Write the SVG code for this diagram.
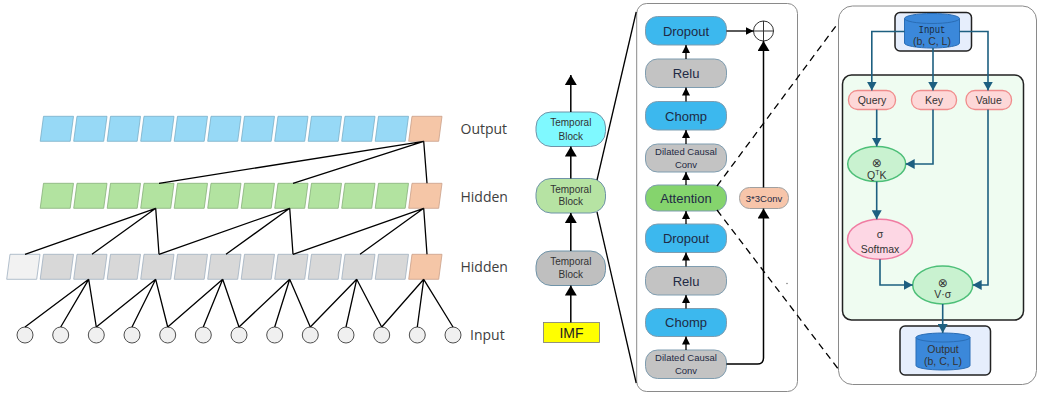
<svg xmlns="http://www.w3.org/2000/svg" xmlns:xlink="http://www.w3.org/1999/xlink" width="1039" height="395" viewBox="0 0 1039 395">
<style>
.ln{stroke:#000;stroke-width:1.3;fill:none}
.cb{fill:#97d9f6;stroke:#7aaec8;stroke-width:0.8}
.cg{fill:#b2e3a0;stroke:#86b07a;stroke-width:0.8}
.cy{fill:#d8d8d8;stroke:#a0b0c0;stroke-width:0.8}
.cl{fill:#f2f2f2;stroke:#a0b0c0;stroke-width:0.8}
.co{fill:#f5c6a7;stroke:#c9a089;stroke-width:0.8}
.inp{fill:#f0f0f0;stroke:#505050;stroke-width:1}
.lbl{font-family:'Open Sans',sans-serif;font-size:14px;fill:#404040}
.tb{stroke:#6f93a8;stroke-width:1}
.tbt{font-family:'Liberation Sans',Arial,sans-serif;font-size:10px;fill:#333;text-anchor:middle}
.bx{stroke:#7f9db0;stroke-width:1}
.blue{fill:#3cb8ee}
.gray{fill:#c3c3c3}
.green{fill:#85d46d}
.peach{fill:#f7c5aa}
.bt{font-family:'Liberation Sans',Arial,sans-serif;font-size:13px;fill:#1f2a44;text-anchor:middle}
.bs{font-family:'Liberation Sans',Arial,sans-serif;font-size:9.5px;fill:#1f2a44;text-anchor:middle}
.ka{stroke:#000;stroke-width:1.5;fill:none;marker-end:url(#ka)}
.sa{stroke:#000;stroke-width:1.3;fill:none;marker-end:url(#sa)}
.dash{stroke:#000;stroke-width:1.3;fill:none;stroke-dasharray:7 5}
.panel{fill:#fff;stroke:#8a8a8a;stroke-width:1}
.ar{stroke:#1d5f80;stroke-width:1.6;fill:none;marker-end:url(#ta)}
.rt{font-family:'Liberation Sans','DejaVu Sans',Arial,sans-serif;font-size:10.5px;fill:#333;text-anchor:middle}
.ot{font-family:'DejaVu Sans',sans-serif;font-size:12px;fill:#333;text-anchor:middle}
.dbox{fill:#e6eefc;stroke:#222;stroke-width:1.5}
.cyl{fill:#3b88da;stroke:#2a6db5;stroke-width:1}
.pk{fill:#fdd8d8;stroke:#f08c8c;stroke-width:1.3}
.eg{fill:#c9f2d0;stroke:#4dbf78;stroke-width:1.5}
.ep{fill:#fdd7e4;stroke:#f07ca2;stroke-width:1.5}
</style>
<defs>
<polygon id="cell" points="0,25 30,25 33.3,0 3.3,0"/>
<marker id="ka" viewBox="0 0 10 12" refX="10" refY="6" markerWidth="10" markerHeight="12" markerUnits="userSpaceOnUse" orient="auto"><path d="M0,0 L10,6 L0,12 z" fill="#000"/></marker>
<marker id="sa" viewBox="0 0 8 8" refX="8" refY="4" markerWidth="8" markerHeight="8" markerUnits="userSpaceOnUse" orient="auto"><path d="M0,0 L8,4 L0,8 z" fill="#000"/></marker>
<marker id="ta" viewBox="0 0 9 10" refX="9" refY="5" markerWidth="9" markerHeight="10" markerUnits="userSpaceOnUse" orient="auto"><path d="M0,0 L9,5 L0,10 z" fill="#1d5f80"/></marker>
</defs>

<!-- TCN output row -->
<g id="out-row">
<g id="o0"><use href="#cell" x="40.2" y="116.3" class="cb"/></g>
<g id="o1"><use href="#cell" x="73.7" y="116.3" class="cb"/></g>
<g id="o2"><use href="#cell" x="107.2" y="116.3" class="cb"/></g>
<g id="o3"><use href="#cell" x="140.7" y="116.3" class="cb"/></g>
<g id="o4"><use href="#cell" x="174.2" y="116.3" class="cb"/></g>
<g id="o5"><use href="#cell" x="207.7" y="116.3" class="cb"/></g>
<g id="o6"><use href="#cell" x="241.2" y="116.3" class="cb"/></g>
<g id="o7"><use href="#cell" x="274.7" y="116.3" class="cb"/></g>
<g id="o8"><use href="#cell" x="308.2" y="116.3" class="cb"/></g>
<g id="o9"><use href="#cell" x="341.7" y="116.3" class="cb"/></g>
<g id="o10"><use href="#cell" x="375.2" y="116.3" class="cb"/></g>
<g id="o11"><use href="#cell" x="408.7" y="116.3" class="co"/></g>
</g>
<g id="hid1-row">
<g id="h0"><use href="#cell" x="40.2" y="183.3" class="cg"/></g>
<g id="h1"><use href="#cell" x="73.7" y="183.3" class="cg"/></g>
<g id="h2"><use href="#cell" x="107.2" y="183.3" class="cg"/></g>
<g id="h3"><use href="#cell" x="140.7" y="183.3" class="cg"/></g>
<g id="h4"><use href="#cell" x="174.2" y="183.3" class="cg"/></g>
<g id="h5"><use href="#cell" x="207.7" y="183.3" class="cg"/></g>
<g id="h6"><use href="#cell" x="241.2" y="183.3" class="cg"/></g>
<g id="h7"><use href="#cell" x="274.7" y="183.3" class="cg"/></g>
<g id="h8"><use href="#cell" x="308.2" y="183.3" class="cg"/></g>
<g id="h9"><use href="#cell" x="341.7" y="183.3" class="cg"/></g>
<g id="h10"><use href="#cell" x="375.2" y="183.3" class="cg"/></g>
<g id="h11"><use href="#cell" x="408.7" y="183.3" class="co"/></g>
</g>
<g id="hid2-row">
<g id="g0"><use href="#cell" x="6.7" y="254.3" class="cl"/></g>
<g id="g1"><use href="#cell" x="40.2" y="254.3" class="cy"/></g>
<g id="g2"><use href="#cell" x="73.7" y="254.3" class="cy"/></g>
<g id="g3"><use href="#cell" x="107.2" y="254.3" class="cy"/></g>
<g id="g4"><use href="#cell" x="140.7" y="254.3" class="cy"/></g>
<g id="g5"><use href="#cell" x="174.2" y="254.3" class="cy"/></g>
<g id="g6"><use href="#cell" x="207.7" y="254.3" class="cy"/></g>
<g id="g7"><use href="#cell" x="241.2" y="254.3" class="cy"/></g>
<g id="g8"><use href="#cell" x="274.7" y="254.3" class="cy"/></g>
<g id="g9"><use href="#cell" x="308.2" y="254.3" class="cy"/></g>
<g id="g10"><use href="#cell" x="341.7" y="254.3" class="cy"/></g>
<g id="g11"><use href="#cell" x="375.2" y="254.3" class="cy"/></g>
<g id="g12"><use href="#cell" x="408.7" y="254.3" class="co"/></g>
</g>
<g id="input-row">
<g id="i0"><circle cx="25" cy="335" r="8" class="inp"/></g>
<g id="i1"><circle cx="60.7" cy="335" r="8" class="inp"/></g>
<g id="i2"><circle cx="96.3" cy="335" r="8" class="inp"/></g>
<g id="i3"><circle cx="132" cy="335" r="8" class="inp"/></g>
<g id="i4"><circle cx="167.7" cy="335" r="8" class="inp"/></g>
<g id="i5"><circle cx="203.3" cy="335" r="8" class="inp"/></g>
<g id="i6"><circle cx="239" cy="335" r="8" class="inp"/></g>
<g id="i7"><circle cx="274.7" cy="335" r="8" class="inp"/></g>
<g id="i8"><circle cx="310.3" cy="335" r="8" class="inp"/></g>
<g id="i9"><circle cx="346" cy="335" r="8" class="inp"/></g>
<g id="i10"><circle cx="381.7" cy="335" r="8" class="inp"/></g>
<g id="i11"><circle cx="417.3" cy="335" r="8" class="inp"/></g>
<g id="i12"><circle cx="453" cy="335" r="8" class="inp"/></g>
</g>
<g id="row-labels">
<text class="lbl" x="460.5" y="134.3">Output</text>
<text class="lbl" x="460.5" y="201.7">Hidden</text>
<text class="lbl" x="460.5" y="271.7">Hidden</text>
<text class="lbl" x="470" y="340">Input</text>
</g>

<!-- TCN connectors -->
<g id="tcn-connectors" class="ln">
<path d="M423.7,141.3 L159,183.3 M423.7,141.3 L293,183.3 M423.7,141.3 L427,183.3"/>
<path d="M155.7,208.3 L25,254.3 M155.7,208.3 L92,254.3 M155.7,208.3 L159,254.3"/>
<path d="M289.7,208.3 L159,254.3 M289.7,208.3 L226,254.3 M289.7,208.3 L293,254.3"/>
<path d="M423.7,208.3 L293,254.3 M423.7,208.3 L360,254.3 M423.7,208.3 L427,254.3"/>
<path d="M88.7,279.3 L25,327 M88.7,279.3 L60.7,327 M88.7,279.3 L96.3,327"/>
<path d="M155.7,279.3 L96.3,327 M155.7,279.3 L132,327 M155.7,279.3 L167.7,327"/>
<path d="M222.7,279.3 L167.7,327 M222.7,279.3 L203.3,327 M222.7,279.3 L239,327"/>
<path d="M289.7,279.3 L239,327 M289.7,279.3 L274.7,327 M289.7,279.3 L310.3,327"/>
<path d="M356.7,279.3 L310.3,327 M356.7,279.3 L346,327 M356.7,279.3 L381.7,327"/>
<path d="M423.7,279.3 L381.7,327 M423.7,279.3 L417.3,327 M423.7,279.3 L453,327"/>
</g>

<!-- Temporal block column -->
<g id="tb-top"><rect x="536" y="112" width="69.5" height="34.5" rx="15" fill="#7ff9ff" class="tb"/><text class="tbt" x="570.8" y="126.3">Temporal</text><text class="tbt" x="570.8" y="139.6">Block</text></g>
<g id="tb-mid"><rect x="536" y="178.5" width="69.5" height="34.5" rx="15" fill="#b6e3a3" class="tb"/><text class="tbt" x="570.8" y="193">Temporal</text><text class="tbt" x="570.8" y="205.3">Block</text></g>
<g id="tb-bot"><rect x="536" y="251" width="69.5" height="34.5" rx="15" fill="#bfbfbf" class="tb"/><text class="tbt" x="570.8" y="265.3">Temporal</text><text class="tbt" x="570.8" y="277.7">Block</text></g>
<g id="imf"><rect x="543.5" y="322.5" width="56" height="20" fill="#ffff00" stroke="#7a7a7a" stroke-width="0.8"/><text x="571.5" y="337.5" font-family="'Liberation Sans',Arial,sans-serif" font-size="14" fill="#222" text-anchor="middle">IMF</text></g>

<!-- middle panel -->
<g id="block-panel"><rect x="636.7" y="3.5" width="160.8" height="388" rx="10" class="panel"/></g>
<g id="dropout1"><rect x="645.5" y="16.5" width="81" height="28.5" rx="12" class="bx blue"/><text class="bt" x="686" y="35.5">Dropout</text></g>
<g id="relu1"><rect x="645.5" y="59" width="81" height="28.5" rx="12" class="bx gray"/><text class="bt" x="686" y="78">Relu</text></g>
<g id="chomp1"><rect x="645.5" y="101.5" width="81" height="28.5" rx="12" class="bx blue"/><text class="bt" x="686" y="120.5">Chomp</text></g>
<g id="dcc1"><rect x="645.5" y="144" width="81" height="28" rx="12" class="bx gray"/><text class="bs" x="686" y="155.2">Dilated Causal</text><text class="bs" x="686" y="167.8">Conv</text></g>
<g id="attention"><rect x="645.5" y="185" width="81" height="26" rx="12" class="bx green"/><text class="bt" x="686" y="202.6">Attention</text></g>
<g id="dropout2"><rect x="645.5" y="224" width="81" height="28.5" rx="12" class="bx blue"/><text class="bt" x="686" y="243">Dropout</text></g>
<g id="relu2"><rect x="645.5" y="266.5" width="81" height="28.5" rx="12" class="bx gray"/><text class="bt" x="686" y="285.5">Relu</text></g>
<g id="chomp2"><rect x="645.5" y="308.5" width="81" height="28" rx="12" class="bx blue"/><text class="bt" x="686" y="327.2">Chomp</text></g>
<g id="dcc2"><rect x="645.5" y="350" width="81" height="28.5" rx="12" class="bx gray"/><text class="bs" x="686" y="360.8">Dilated Causal</text><text class="bs" x="686" y="373.5">Conv</text></g>
<g id="conv33"><rect x="739.5" y="187.5" width="49" height="21" rx="10" class="peach" stroke="#a0a0a0" stroke-width="1"/><text class="bs" x="764" y="201.5" font-size="10">3*3Conv</text></g>
<g id="add"><circle cx="763.5" cy="31" r="10" fill="#fff" stroke="#333" stroke-width="1"/><path d="M753.5,31 H773.5 M763.5,21 V41" stroke="#333" stroke-width="1"/></g>

<!-- right panel -->
<g id="attn-panel"><rect x="838.5" y="6" width="198" height="378.5" rx="14" class="panel"/></g>
<g id="attn-inner"><rect x="842.5" y="75" width="181" height="245" rx="9" fill="#effcf1" stroke="#222" stroke-width="1.5"/></g>
<g id="input-data"><rect x="895" y="12.5" width="76.5" height="38.5" rx="5" class="dbox"/><path d="M904.5,18.5 V43 A27.5,5 0 0 0 959.5,43 V18.5" class="cyl"/><ellipse cx="932" cy="18.5" rx="27.5" ry="5" class="cyl"/><text x="932" y="33.3" font-family="'Liberation Mono','DejaVu Sans Mono',monospace" font-size="11" fill="#1a2a40" text-anchor="middle" textLength="27" lengthAdjust="spacingAndGlyphs">Input</text><text class="rt" x="932" y="45" fill="#1a2a40">(b, C, L)</text></g>
<g id="query"><rect x="848.5" y="90.5" width="47" height="19" rx="9" class="pk"/><text class="rt" x="872" y="104">Query</text></g>
<g id="key"><rect x="911.5" y="90.5" width="45" height="19" rx="9" class="pk"/><text class="rt" x="934" y="104">Key</text></g>
<g id="value"><rect x="966" y="90.5" width="45.5" height="19" rx="9" class="pk"/><text class="rt" x="988.7" y="104">Value</text></g>
<g id="qtk"><ellipse cx="876.7" cy="164" rx="29" ry="17.5" class="eg"/><text class="ot" x="876.7" y="166.5">⊗</text><text class="rt" x="876.7" y="178.5" font-size="11">Q<tspan font-size="7" dy="-4">T</tspan><tspan dy="4">K</tspan></text></g>
<g id="softmax"><ellipse cx="880" cy="239.3" rx="32.5" ry="20" class="ep"/><text class="rt" x="880" y="238" font-size="11">σ</text><text class="rt" x="880" y="252.5" font-size="11">Softmax</text></g>
<g id="vsigma"><ellipse cx="942.7" cy="285" rx="30" ry="19" class="eg"/><text class="ot" x="942.7" y="286.5">⊗</text><text class="rt" x="942.7" y="298.3" font-size="11">V·σ</text></g>
<g id="output-data"><rect x="900" y="326" width="90.5" height="49" rx="5" class="dbox"/><path d="M916,337.5 V365.5 A27,4.5 0 0 0 970,365.5 V337.5" class="cyl"/><ellipse cx="943" cy="337.5" rx="27" ry="4.5" class="cyl"/><text class="rt" x="943" y="353" font-size="11" fill="#1a2a40">Output</text><text class="rt" x="943" y="365" fill="#1a2a40">(b, C, L)</text></g>

<circle cx="787" cy="283.5" r="0.7" fill="#666"/>

<!-- connectors -->
<g id="connectors">
<path class="ka" d="M570.8,322.5 V285.5"/>
<path class="ka" d="M570.8,251 V213"/>
<path class="ka" d="M570.8,178.5 V146.5"/>
<path class="ka" d="M570.8,112 V75"/>
<path class="ln" d="M597,180 L636.2,12"/>
<path class="ln" d="M597,212 L636.2,383"/>
<path class="sa" d="M686,59 V45"/>
<path class="sa" d="M686,101.5 V87.5"/>
<path class="sa" d="M686,144 V130"/>
<path class="sa" d="M686,185 V172"/>
<path class="sa" d="M686,224 V211"/>
<path class="sa" d="M686,266.5 V252.5"/>
<path class="sa" d="M686,308.5 V295"/>
<path class="sa" d="M686,350 V336.5"/>
<path class="sa" d="M726.5,31 H753.5"/>
<path class="ka" d="M763.5,187.5 V41"/>
<path class="ka" d="M726.5,364 H757.5 Q763.5,364 763.5,358 V208.5"/>
<path class="dash" d="M717,186 L838.5,22.5"/>
<path class="dash" d="M717,210 L839,370"/>
<path class="ar" d="M904.5,31.5 H871.8 V90.5"/>
<path class="ar" d="M933,48 V90.5"/>
<path class="ar" d="M959.5,31.5 H988 V90.5"/>
<path class="ar" d="M876.7,109.5 V146.5"/>
<path class="ar" d="M933,109.5 V164 H905.7"/>
<path class="ar" d="M876.7,181.5 V219.3"/>
<path class="ar" d="M880,259.3 V285 H912.7"/>
<path class="ar" d="M988,109.5 V285 H972.7"/>
<path class="ar" d="M942.7,304 V333"/>
</g>
</svg>
